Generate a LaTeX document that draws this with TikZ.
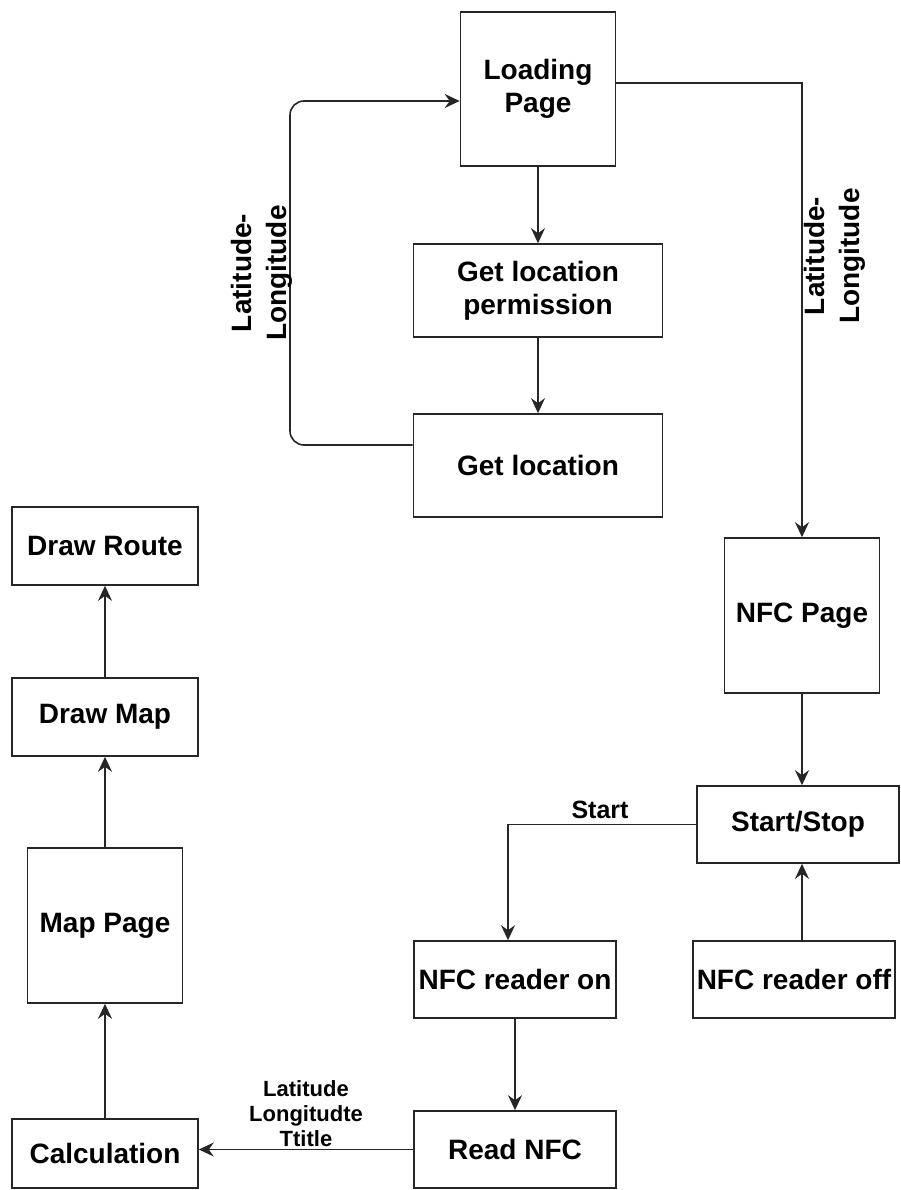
\documentclass[tikz,border=0pt]{standalone}
\usepackage{fontspec}
\setmainfont{Liberation Sans}
\usetikzlibrary{arrows.meta}

\begin{document}
\begin{tikzpicture}[x=1pt,y=-1pt,
  box/.style={draw=black!85, line width=1.6pt, rectangle, inner sep=0pt, align=center,
    font=\fontsize{28}{33}\selectfont\bfseries},
  link/.style={draw=black!85, line width=1.6pt},
  arr/.style={link, -{Stealth[length=15pt,width=14pt,inset=5pt]}},
  rotlabel/.style={rotate=90, align=center, inner sep=0pt,
    font=\fontsize{28}{35}\selectfont\bfseries},
  edgelabel/.style={align=center, inner sep=0pt}
]
\useasboundingbox (0,0) rectangle (900,1190);

% location branch
\node[box, minimum width=155, minimum height=154] (load) at (538,89) {Loading\\Page};
\node[box, minimum width=249, minimum height=93] (perm) at (538,290.5) {Get location\\permission};
\node[box, minimum width=249, minimum height=103] (getloc) at (538,465.5) {Get location};

% NFC branch
\node[box, minimum width=155, minimum height=155] (nfcpage) at (802,615.5) {NFC Page};
\node[box, minimum width=202, minimum height=77] (startstop) at (798,824.5) {Start/Stop};
\node[box, minimum width=202, minimum height=77] (readeron) at (515,979.5) {NFC reader on};
\node[box, minimum width=202, minimum height=77] (readeroff) at (794,979.5) {NFC reader off};
\node[box, minimum width=202, minimum height=77] (readnfc) at (515,1149.5) {Read NFC};

% map branch
\node[box, minimum width=186, minimum height=69] (calc) at (105,1153.5) {Calculation};
\node[box, minimum width=155, minimum height=155] (mappage) at (105,925.5) {Map Page};
\node[box, minimum width=186, minimum height=78] (drawmap) at (105,717) {Draw Map};
\node[box, minimum width=186, minimum height=78] (drawroute) at (105,546) {Draw Route};

% helper coordinates for the routed connectors
\coordinate (loopTop) at (290,101);
\coordinate (spine) at (802,0);

% connectors
\draw[arr] (load.south) -- (perm.north);
\draw[arr] (perm.south) -- (getloc.north);
\draw[arr, rounded corners=14pt] ([yshift=20.5pt]getloc.west) -| (loopTop) -- ([yshift=-12pt]load.west);
\draw[arr] ([yshift=6pt]load.east) -| (spine |- nfcpage.north);
\draw[arr] (spine |- nfcpage.south) -- (spine |- startstop.north);
\draw[arr] (spine |- readeroff.north) -- (spine |- startstop.south);
\draw[arr] (startstop.west) -| ([xshift=-7pt]readeron.north);
\draw[arr] (readeron.south) -- (readnfc.north);
\draw[arr] (readnfc.west) -- (readnfc.west -| calc.east);
\draw[arr] (calc.north) -- (mappage.south);
\draw[arr] (mappage.north) -- (drawmap.south);
\draw[arr] (drawmap.north) -- (drawroute.south);

% connector labels
\node[rotlabel] (latlonL) at (262,273) {Latitude-\\Longitude};
\node[rotlabel] (latlonR) at (835,256) {Latitude-\\Longitude};
\node[edgelabel, font=\fontsize{25}{30}\selectfont\bfseries] (startlbl) at (600,810) {Start};
\node[edgelabel, anchor=south, font=\fontsize{22}{25}\selectfont\bfseries] (nfcdata) at (306,1147) {Latitude\\Longitudte\\Ttitle};
\end{tikzpicture}
\end{document}
